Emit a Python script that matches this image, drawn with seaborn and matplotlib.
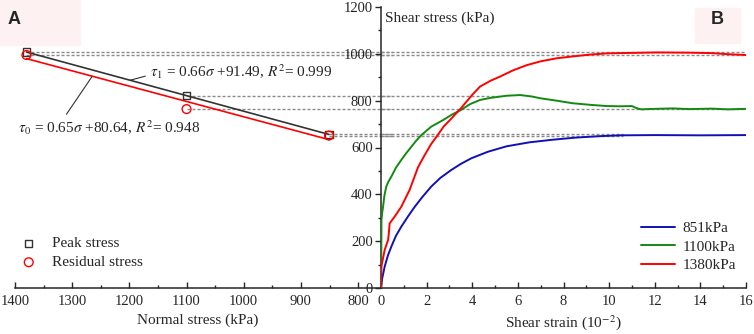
import matplotlib
matplotlib.use("Agg")
import matplotlib.pyplot as plt
from matplotlib.patches import Rectangle
from matplotlib.ticker import MultipleLocator
import pandas as pd
import seaborn as sns

# panel A: peak / residual shear stress vs normal stress
normal_stress = [1380, 1100, 851]
peak_stress = [1008, 821, 656]
residual_stress = [995, 764, 651]
# where each dotted guide line stops on the strain axis (peak, residual)
peak_guide_end = [16, 5.3, 10.6]
resid_guide_end = [16, 16, 10.6]

# panel B: shear stress vs shear strain (10^-2)
strain_851 = [0, 0.05, 0.16, 0.3, 0.45, 0.65, 0.89, 1.2, 1.48, 1.8, 2.2, 2.6, 3.08, 3.5, 3.96, 4.69,
              5.5, 6.5, 7.5, 8.5, 9.5, 10.5, 12, 14, 16]
stress_851 = [0, 40, 91, 138, 176, 222, 262, 308, 347, 387, 433, 470, 504, 530, 554, 582,
              605, 622, 633, 642, 648, 652, 653, 652, 653]

strain_1100 = [0, 0.01, 0.02, 0.05, 0.09, 0.15, 0.23, 0.33, 0.45, 0.65, 0.89, 1.1, 1.33, 1.55, 1.77,
               2.2, 2.72, 3.1, 3.5, 3.9, 4.34, 4.8, 5.5, 6.1, 6.6, 7.0, 7.7, 8.4, 9.2, 9.9, 10.5,
               11.0, 11.2, 11.4, 12, 12.8, 13.5, 14.5, 15.2, 16]
stress_1100 = [0, 91, 290, 320, 347, 395, 433, 455, 475, 513, 547, 575, 603, 630, 653,
               689, 717, 740, 760, 785, 803, 812, 821, 824, 818, 810, 800, 789, 782, 777, 776,
               777, 768, 763, 765, 767, 764, 766, 763, 765]

strain_1380 = [0, 0.015, 0.16, 0.31, 0.34, 0.38, 0.6, 0.89, 1.26, 1.62, 1.9, 2.2, 2.5, 2.75, 3.0,
               3.5, 4.0, 4.34, 4.8, 5.2, 5.8, 6.4, 7.0, 7.7, 8.5, 9.2, 9.9, 11, 12.1, 13.5, 14.5,
               15.3, 16]
stress_1380 = [0, 91, 162, 205, 230, 276, 305, 347, 420, 515, 565, 615, 655, 690, 715,
               767, 825, 860, 885, 902, 930, 952, 968, 981, 990, 997, 1002, 1004, 1006, 1005, 1003,
               998, 995]

curve_labels = ["851kPa", "1100kPa", "1380kPa"]
curve_colors = ["#1010b8", "#128a12", "#ff0000"]

sns.set_style("ticks")
plt.rcParams["font.family"] = ["Liberation Serif", "DejaVu Serif"]
plt.rcParams["mathtext.fontset"] = "stix"

W, H = 754, 334
fig = plt.figure(figsize=(W / 100, H / 100), dpi=100)
x0, xm, x1 = 15, 381, 746
ytop, ybot = 7, 288
ax_l = fig.add_axes([x0 / W, (H - ybot) / H, (xm - x0) / W, (ybot - ytop) / H])
ax_r = fig.add_axes([xm / W, (H - ybot) / H, (x1 - xm) / W, (ybot - ytop) / H], sharey=ax_l)
for a in (ax_l, ax_r):
    a.set_facecolor("none")

# pink label boxes
fig.patches.append(Rectangle((0, (H - 45) / H), 80 / W, 45 / H, transform=fig.transFigure,
                             color="#fdf1f1", zorder=0))
fig.patches.append(Rectangle((695 / W, (H - 43) / H), 45 / W, 35 / H, transform=fig.transFigure,
                             color="#fdf1f1", zorder=0))
fig.text(8 / W, 1 - 19 / H, "A", fontsize=13, fontweight="bold", family="Liberation Sans", va="center")
fig.text(711 / W, 1 - 19 / H, "B", fontsize=13, fontweight="bold", family="Liberation Sans", va="center")

# ---- panel A ----
pts = pd.DataFrame({"sigma": normal_stress, "peak": peak_stress, "resid": residual_stress})
guide = dict(color="#8a8a8a", lw=1.0, linestyle=(0, (2.2, 1.4)), zorder=1)
for s, p, r in zip(normal_stress, peak_stress, residual_stress):
    ax_l.plot([s, 740], [p, p], clip_on=False, **guide)
    ax_l.plot([s, 740], [r, r], clip_on=False, **guide)

sns.regplot(data=pts, x="sigma", y="peak", ax=ax_l, scatter=False, ci=None,
            line_kws=dict(color="#333333", lw=1.2, zorder=3))
sns.regplot(data=pts, x="sigma", y="resid", ax=ax_l, scatter=False, ci=None,
            line_kws=dict(color="#ff0000", lw=1.2, zorder=3))
sns.scatterplot(data=pts, x="sigma", y="peak", ax=ax_l, marker="s", s=28, facecolor="none",
                edgecolor="#333333", linewidth=1.0, label="Peak stress", zorder=4)
sns.scatterplot(data=pts, x="sigma", y="resid", ax=ax_l, marker="o", s=40, facecolor="none",
                edgecolor="#ff0000", linewidth=1.0, label="Residual stress", zorder=4)

ax_l.annotate(r"$\tau_1$ = 0.66$\sigma$ +91.49, $R^2$= 0.999", xy=(1199, 887), xytext=(1164, 922),
              fontsize=11, va="center", ha="left",
              arrowprops=dict(arrowstyle="-", color="#333333", lw=0.8, relpos=(0, 0.35),
                              shrinkA=1, shrinkB=0))
ax_l.annotate(r"$\tau_0$ = 0.65$\sigma$ +80.64, $R^2$= 0.948", xy=(1265, 904), xytext=(1395, 683),
              fontsize=11, va="center", ha="left",
              arrowprops=dict(arrowstyle="-", color="#333333", lw=0.8, relpos=(0.25, 1.0),
                              shrinkA=1, shrinkB=0))

ax_l.legend(loc="lower left", bbox_to_anchor=(0.0, 0.045), frameon=False, fontsize=11,
            handlelength=1.0, handletextpad=1.0, labelspacing=0.35, borderaxespad=0)

ax_l.set_xlim(1400, 760)
ax_l.set_ylim(0, 1200)
ax_l.xaxis.set_minor_locator(MultipleLocator(50))
ax_l.set_xticks(range(1400, 799, -100))
ax_l.set_xlabel("Normal stress (kPa)", fontsize=11, labelpad=4)
ax_l.set_ylabel("")
for sp in ("left", "right", "top"):
    ax_l.spines[sp].set_visible(False)
ax_l.tick_params(axis="y", which="both", left=False, labelleft=False)
ax_l.tick_params(axis="x", which="major", direction="in", length=4, width=1, labelsize=10.5, pad=5)
ax_l.tick_params(axis="x", which="minor", direction="in", length=2, width=1)
ax_l.spines["bottom"].set_linewidth(1.1)

# ---- panel B ----
for s, p, r, pe, re in zip(normal_stress, peak_stress, residual_stress, peak_guide_end, resid_guide_end):
    ax_r.plot([0, pe], [p, p], **guide)
    ax_r.plot([0, re], [r, r], **guide)

curves = pd.concat([
    pd.DataFrame({"strain": strain_851, "stress": stress_851, "load": curve_labels[0]}),
    pd.DataFrame({"strain": strain_1100, "stress": stress_1100, "load": curve_labels[1]}),
    pd.DataFrame({"strain": strain_1380, "stress": stress_1380, "load": curve_labels[2]}),
])
sns.lineplot(data=curves, x="strain", y="stress", hue="load", palette=curve_colors, ax=ax_r,
             lw=1.4, sort=False, estimator=None, zorder=3)
ax_r.legend(title=None, loc="lower right", bbox_to_anchor=(0.99, 0.035), frameon=False, fontsize=11,
            handlelength=2.2, handletextpad=0.5, labelspacing=0.3, borderaxespad=0)

ax_r.set_xlim(0, 16)
ax_r.xaxis.set_major_locator(MultipleLocator(2))
ax_r.xaxis.set_minor_locator(MultipleLocator(1))
ax_r.yaxis.set_major_locator(MultipleLocator(200))
ax_r.yaxis.set_minor_locator(MultipleLocator(100))
ax_r.set_xlabel(r"Shear strain (10$^{-2}$)", fontsize=11, labelpad=4)
ax_r.set_ylabel("")
ax_r.text(0.012, 0.96, "Shear stress (kPa)", transform=ax_r.transAxes, fontsize=11, va="center")
for sp in ("right", "top"):
    ax_r.spines[sp].set_visible(False)
ax_r.spines["bottom"].set_linewidth(1.1)
ax_r.spines["left"].set_linewidth(1.1)
ax_r.tick_params(axis="x", which="major", direction="in", length=4, width=1, labelsize=10.5, pad=5)
ax_r.tick_params(axis="x", which="minor", direction="in", length=2, width=1)
ax_r.tick_params(axis="y", which="major", direction="out", length=4, width=1, labelsize=10.5, pad=2,
                 labelleft=True)
ax_r.tick_params(axis="y", which="minor", direction="out", length=2, width=1)

fig.savefig("out.png", dpi=100)
